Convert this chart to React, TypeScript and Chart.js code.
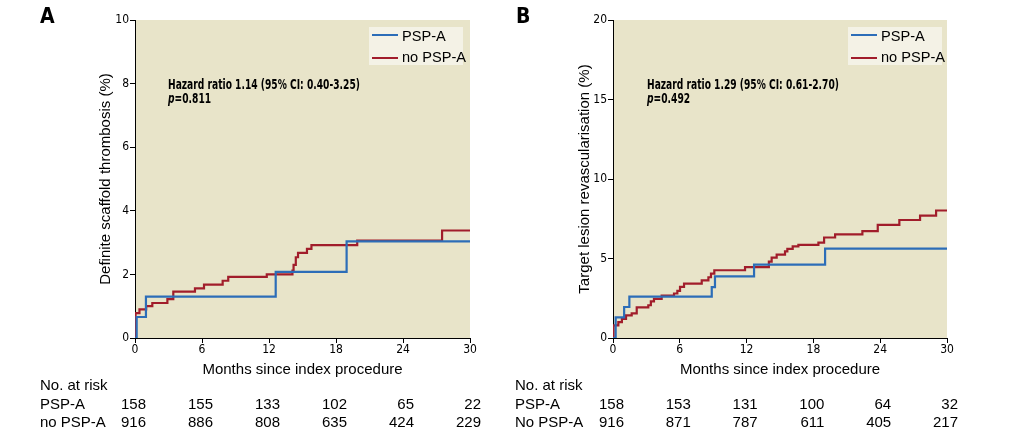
import React, { useEffect, useRef } from "react";
import { Chart, registerables } from "chart.js";

Chart.register(...registerables);

// ---------- data ----------
const MONTH_TICKS = [0, 6, 12, 18, 24, 30];

// Panel A: definite scaffold thrombosis (%)
const A_PSP_MONTHS = [0, 0.15, 0.98, 12.6, 18.95, 30];
const A_PSP_VALUES = [0, 0.66, 1.3, 2.08, 3.04, 3.04];
const A_NO_MONTHS = [0, 0.05, 0.4, 1.0, 1.55, 2.9, 3.43, 5.37, 6.18, 7.85, 8.35, 11.8, 14.1, 14.2, 14.4, 14.6, 15.4, 15.8, 19.9, 27.5, 30];
const A_NO_VALUES = [0, 0.78, 0.9, 1.0, 1.1, 1.22, 1.46, 1.56, 1.68, 1.8, 1.92, 2.0, 2.12, 2.3, 2.54, 2.68, 2.8, 2.92, 3.06, 3.38, 3.38];
const A_Y_TICKS = [0, 2, 4, 6, 8, 10];

// Panel B: target lesion revascularisation (%)
const B_PSP_MONTHS = [0, 0.24, 1.0, 1.47, 8.87, 9.16, 12.67, 19.05, 30];
const B_PSP_VALUES = [0, 1.3, 1.95, 2.6, 3.2, 3.88, 4.62, 5.62, 5.62];
const B_NO_MONTHS = [0, 0.05, 0.48, 0.8, 1.17, 1.68, 2.13, 3.17, 3.4, 3.68, 4.37, 5.48, 5.78, 6.02, 6.38, 7.97, 8.57, 8.8, 9.1, 11.86, 14.0, 14.25, 14.7, 15.45, 15.66, 16.14, 16.65, 18.45, 18.96, 19.95, 22.4, 23.78, 25.72, 27.58, 29.02, 30];
const B_NO_VALUES = [0, 0.8, 1.0, 1.2, 1.42, 1.55, 1.92, 2.06, 2.3, 2.46, 2.66, 2.8, 2.96, 3.22, 3.42, 3.62, 3.82, 4.05, 4.26, 4.46, 4.8, 5.05, 5.25, 5.45, 5.6, 5.76, 5.86, 6.0, 6.32, 6.52, 6.72, 7.12, 7.42, 7.7, 8.02, 8.02];
const B_Y_TICKS = [0, 5, 10, 15, 20];

// Numbers at risk
const A_RISK_PSP = [158, 155, 133, 102, 65, 22];
const A_RISK_NO = [916, 886, 808, 635, 424, 229];
const B_RISK_PSP = [158, 153, 131, 100, 64, 32];
const B_RISK_NO = [916, 871, 787, 611, 405, 217];

// ---------- styles ----------
const BLUE = "#2c6db8";
const RED = "#a11d2b";
const BEIGE = "#e8e4c9";
const LEGEND_BG = "#f4f2e6";
const NARROW = '"Liberation Sans Narrow", "DejaVu Sans Condensed", "Arial Narrow", sans-serif';
const SANS = '"Liberation Sans", Arial, sans-serif';

const bgPlugin = {
  id: "plotBg",
  beforeDraw(chart: any) {
    const { ctx, chartArea } = chart;
    if (!chartArea) return;
    ctx.save();
    ctx.fillStyle = BEIGE;
    ctx.fillRect(chartArea.left, chartArea.top, chartArea.right - chartArea.left, chartArea.bottom - chartArea.top);
    ctx.restore();
  },
};

const pts = (t: number[], v: number[]) => t.map((x, i) => ({ x, y: v[i] }));

type PanelProps = {
  left: number;
  padLeft: number;
  padRight: number;
  yWidth: number;
  yTicks: number[];
  yTitle: string;
  pspT: number[];
  pspV: number[];
  noT: number[];
  noV: number[];
};

function KMPanel(p: PanelProps) {
  const ref = useRef<HTMLCanvasElement | null>(null);
  useEffect(() => {
    if (!ref.current) return;
    const chart = new Chart(ref.current, {
      type: "line",
      data: {
        datasets: [
          {
            label: "PSP-A",
            data: pts(p.pspT, p.pspV),
            borderColor: BLUE,
            borderWidth: 2.2,
            pointRadius: 0,
            stepped: "before",
            fill: false,
          },
          {
            label: "no PSP-A",
            data: pts(p.noT, p.noV),
            borderColor: RED,
            borderWidth: 2.2,
            pointRadius: 0,
            stepped: "before",
            fill: false,
          },
        ],
      },
      options: {
        responsive: false,
        animation: false,
        devicePixelRatio: 1,
        layout: { padding: { left: p.padLeft, right: p.padRight, top: 20, bottom: 0 } },
        plugins: { legend: { display: false }, tooltip: { enabled: false } },
        scales: {
          x: {
            type: "linear",
            min: 0,
            max: 30,
            afterBuildTicks: (s: any) => {
              s.ticks = MONTH_TICKS.map((v) => ({ value: v }));
            },
            afterFit: (s: any) => {
              s.height = 42;
            },
            grid: { display: true, drawOnChartArea: false, drawTicks: true, tickLength: 5, color: "#000" },
            border: { display: true, color: "#000", width: 1 },
            ticks: { color: "#000", padding: 0, font: { family: NARROW, size: 12 }, maxRotation: 0 },
            title: {
              display: true,
              text: "Months since index procedure",
              color: "#000",
              font: { family: SANS, size: 15 },
              padding: { top: 0, bottom: 1 },
            },
          },
          y: {
            type: "linear",
            min: p.yTicks[0],
            max: p.yTicks[p.yTicks.length - 1],
            afterBuildTicks: (s: any) => {
              s.ticks = p.yTicks.map((v) => ({ value: v }));
            },
            afterFit: (s: any) => {
              s.width = p.yWidth;
            },
            grid: { display: true, drawOnChartArea: false, drawTicks: true, tickLength: 5, color: "#000" },
            border: { display: true, color: "#000", width: 1 },
            ticks: { color: "#000", padding: 1, font: { family: NARROW, size: 12 } },
            title: {
              display: true,
              text: p.yTitle,
              color: "#000",
              font: { family: SANS, size: 15 },
              padding: { top: 0, bottom: 0 },
            },
          },
        },
      },
      plugins: [bgPlugin],
    } as any);
    return () => chart.destroy();
  }, []);
  return (
    <canvas
      ref={ref}
      width={500}
      height={380}
      style={{ position: "absolute", left: p.left, top: 0, width: 500, height: 380 }}
    />
  );
}

function Legend({ left }: { left: number }) {
  return (
    <div
      style={{
        position: "absolute",
        left,
        top: 27,
        width: 94,
        height: 38,
        background: LEGEND_BG,
        font: `14.6px ${SANS}`,
        color: "#000",
      }}
    >
      <div style={{ position: "absolute", left: 3, top: 7, width: 26, height: 2, background: BLUE }} />
      <div style={{ position: "absolute", left: 33, top: 0, lineHeight: "18px", whiteSpace: "nowrap" }}>PSP-A</div>
      <div style={{ position: "absolute", left: 3, top: 30, width: 26, height: 2, background: RED }} />
      <div style={{ position: "absolute", left: 33, top: 21, lineHeight: "18px", whiteSpace: "nowrap" }}>no PSP-A</div>
    </div>
  );
}

function Annotation({ left, hr, p }: { left: number; hr: string; p: string }) {
  return (
    <div
      style={{
        position: "absolute",
        left,
        top: 78,
        font: `bold 14px ${NARROW}`,
        lineHeight: "13.5px",
        color: "#000",
        whiteSpace: "nowrap",
        transform: "scaleX(0.725)",
        transformOrigin: "0 0",
      }}
    >
      <div>{hr}</div>
      <div>
        <i>p</i>={p}
      </div>
    </div>
  );
}

function RiskTable({
  left,
  plotLeft,
  plotRight,
  labels,
  rows,
}: {
  left: number;
  plotLeft: number;
  plotRight: number;
  labels: string[];
  rows: number[][];
}) {
  const step = (plotRight - plotLeft) / (MONTH_TICKS.length - 1);
  const lh = 18.5;
  return (
    <div style={{ position: "absolute", left: 0, top: 376, font: `15px ${SANS}`, color: "#000" }}>
      <div style={{ position: "absolute", left, top: 0, lineHeight: `${lh}px`, whiteSpace: "nowrap" }}>No. at risk</div>
      {rows.map((row, r) => (
        <React.Fragment key={r}>
          <div
            style={{ position: "absolute", left, top: (r + 1) * lh, lineHeight: `${lh}px`, whiteSpace: "nowrap" }}
          >
            {labels[r]}
          </div>
          {row.map((n, i) => (
            <div
              key={i}
              style={{
                position: "absolute",
                left: plotLeft + i * step + 11 - 60,
                width: 60,
                textAlign: "right",
                top: (r + 1) * lh,
                lineHeight: `${lh}px`,
              }}
            >
              {n}
            </div>
          ))}
        </React.Fragment>
      ))}
    </div>
  );
}

export default function App() {
  return (
    <div
      style={{
        position: "absolute",
        left: 0,
        top: 0,
        width: 1033,
        height: 437,
        background: "#fff",
        overflow: "hidden",
      }}
    >
      <KMPanel
        left={0}
        padLeft={97}
        padRight={30}
        yWidth={38}
        yTicks={A_Y_TICKS}
        yTitle="Definite scaffold thrombosis (%)"
        pspT={A_PSP_MONTHS}
        pspV={A_PSP_VALUES}
        noT={A_NO_MONTHS}
        noV={A_NO_VALUES}
      />
      <KMPanel
        left={500}
        padLeft={76}
        padRight={53}
        yWidth={37}
        yTicks={B_Y_TICKS}
        yTitle="Target lesion revascularisation (%)"
        pspT={B_PSP_MONTHS}
        pspV={B_PSP_VALUES}
        noT={B_NO_MONTHS}
        noV={B_NO_VALUES}
      />
      <div style={{ position: "absolute", left: 40, top: 6, font: `bold 21px ${NARROW}`, lineHeight: "21px" }}>A</div>
      <div style={{ position: "absolute", left: 516, top: 6, font: `bold 21px ${NARROW}`, lineHeight: "21px" }}>B</div>
      <Legend left={369} />
      <Legend left={848} />
      <Annotation left={168} hr="Hazard ratio 1.14 (95% CI: 0.40-3.25)" p="0.811" />
      <Annotation left={647} hr="Hazard ratio 1.29 (95% CI: 0.61-2.70)" p="0.492" />
      <RiskTable left={40} plotLeft={135} plotRight={470} labels={["PSP-A", "no PSP-A"]} rows={[A_RISK_PSP, A_RISK_NO]} />
      <RiskTable left={515} plotLeft={613} plotRight={947} labels={["PSP-A", "No PSP-A"]} rows={[B_RISK_PSP, B_RISK_NO]} />
    </div>
  );
}
